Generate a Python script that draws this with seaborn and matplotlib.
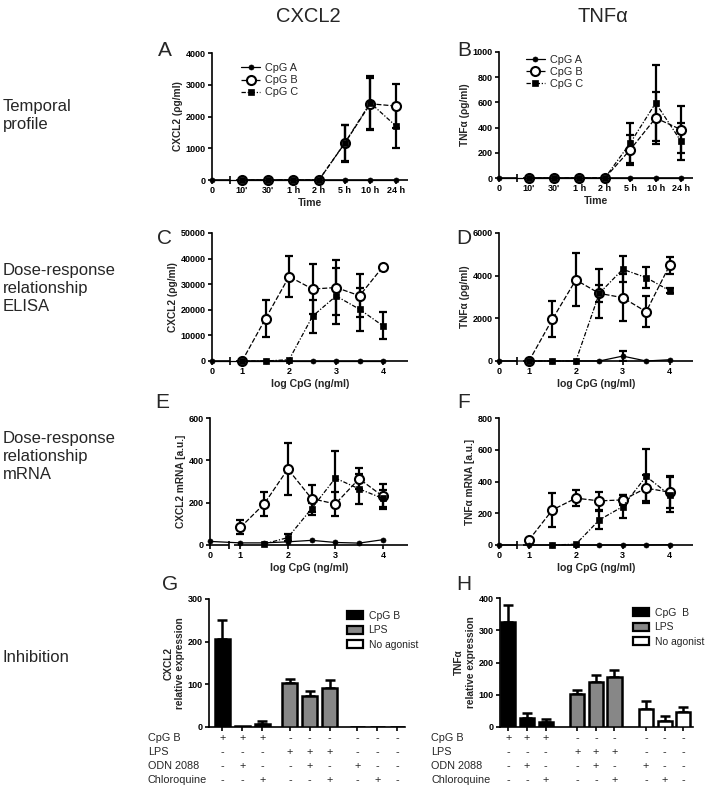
import numpy as np
import pandas as pd
import matplotlib
matplotlib.use("Agg")
import matplotlib.pyplot as plt
import matplotlib.transforms as mtrans
from matplotlib.lines import Line2D
from matplotlib.patches import Patch
import seaborn as sns

nan = np.nan

# ---------------- data ----------------
time_labels = ["0", "10'", "30'", "1 h", "2 h", "5 h", "10 h", "24 h"]

cxcl2_time_a = [0, 0, 0, 0, 0, 0, 0, 0]
cxcl2_time_b = [nan, 0, 0, 0, 0, 1150, 2400, 2330]
cxcl2_time_b_sd = [nan, 0, 0, 0, 0, 570, 800, 700]
cxcl2_time_c = [nan, 0, 0, 0, 0, 1160, 2430, 1700]
cxcl2_time_c_sd = [nan, 0, 0, 0, 0, 560, 850, 700]

tnf_time_a = [0, 0, 0, 0, 0, 0, 0, 0]
tnf_time_b = [nan, 0, 0, 0, 0, 225, 476, 384]
tnf_time_b_sd = [nan, 0, 0, 0, 0, 120, 210, 185]
tnf_time_c = [nan, 0, 0, 0, 0, 278, 595, 291]
tnf_time_c_sd = [nan, 0, 0, 0, 0, 160, 300, 145]

log_dose = [0, 1, 1.5, 2, 2.5, 3, 3.5, 4]
dose_tick_labels = ["0", "1", "2", "3", "4"]

cxcl2_elisa_a = [0, 0, 0, 0, 0, 0, 0, 0]
cxcl2_elisa_b = [nan, 0, 16600, 33000, 28100, 28700, 25500, 36900]
cxcl2_elisa_b_sd = [nan, 0, 7300, 7900, 9800, 10600, 8400, 0]
cxcl2_elisa_c = [nan, 0, 0, 500, 17500, 25400, 20200, 13700]
cxcl2_elisa_c_sd = [nan, 0, 0, 0, 6500, 10800, 8300, 5300]

tnf_elisa_a = [0, 0, 0, 0, 0, 230, 0, 60]
tnf_elisa_a_sd = [0, 0, 0, 0, 0, 220, 0, 0]
tnf_elisa_b = [nan, 0, 1960, 3800, 3170, 2970, 2310, 4480]
tnf_elisa_b_sd = [nan, 0, 840, 1240, 400, 1100, 720, 390]
tnf_elisa_c = [nan, 0, 0, 0, 3170, 4300, 3910, 3300]
tnf_elisa_c_sd = [nan, 0, 0, 0, 1150, 600, 490, 120]

cxcl2_mrna_a = [17, 10, 10, 15, 22, 12, 9, 25]
cxcl2_mrna_b = [nan, 83, 194, 359, 219, 194, 313, 230]
cxcl2_mrna_b_sd = [nan, 33, 57, 125, 63, 56, 50, 60]
cxcl2_mrna_c = [nan, nan, 5, 35, 172, 316, 265, 220]
cxcl2_mrna_c_sd = [nan, nan, 0, 15, 28, 126, 70, 40]

tnf_mrna_a = [0, 0, 0, 0, 0, 0, 0, 2]
tnf_mrna_b = [nan, 32, 221, 295, 278, 284, 358, 333]
tnf_mrna_b_sd = [nan, 0, 105, 50, 55, 30, 80, 100]
tnf_mrna_c = [nan, nan, 0, 5, 158, 242, 432, 316]
tnf_mrna_c_sd = [nan, nan, 0, 0, 57, 70, 170, 110]

agonist = ["CpG B"] * 3 + ["LPS"] * 3 + ["No agonist"] * 3
agonist_order = ["CpG B", "LPS", "No agonist"]
cxcl2_inhib = [206, 2, 7, 102, 72, 91, 0, 0, 0]
cxcl2_inhib_sd = [45, 0, 7, 10, 13, 19, 0, 0, 0]
tnf_inhib = [327, 27, 17, 103, 141, 154, 55, 19, 48]
tnf_inhib_sd = [50, 15, 7, 12, 19, 23, 26, 15, 13]

sign_row_names = ["CpG B", "LPS", "ODN 2088", "Chloroquine"]
signs_cpgb = ["+", "+", "+", "-", "-", "-", "-", "-", "-"]
signs_lps = ["-", "-", "-", "+", "+", "+", "-", "-", "-"]
signs_odn = ["-", "+", "-", "-", "+", "-", "+", "-", "-"]
signs_chloro = ["-", "-", "+", "-", "-", "+", "-", "+", "-"]

# ---------------- style ----------------
sns.set_theme(style="ticks")
plt.rcParams['font.family'] = ['Liberation Sans', 'DejaVu Sans']
plt.rcParams['axes.edgecolor'] = 'black'
plt.rcParams['xtick.color'] = 'black'
plt.rcParams['ytick.color'] = 'black'

W, H = 710, 791
fig = plt.figure(figsize=(W / 100, H / 100), dpi=100)


def add_ax(l, t, r, b):
    return fig.add_axes([l / W, 1 - b / H, (r - l) / W, (b - t) / H])


SPW = 1.2
TICKFS = 6.5
series_kw = {
    'B': dict(marker='o', markersize=6.5, markerfacecolor='white', markeredgecolor='black',
              markeredgewidth=1.5, linestyle=(0, (4, 1.6)), linewidth=0.9, zorder=3),
    'C': dict(marker='s', markersize=4.2, markerfacecolor='black', markeredgecolor='black',
              markeredgewidth=0.5, linestyle=(0, (3.5, 1.4, 1, 1.4)), linewidth=0.9, zorder=4),
    'A': dict(marker='o', markersize=3.6, markerfacecolor='black', markeredgecolor='black',
              markeredgewidth=0.5, linestyle='-', linewidth=0.9, zorder=5),
}


def style_axes(ax, yticks, ylabel):
    ax.set_ylim(yticks[0], yticks[-1])
    ax.set_yticks(yticks)
    ax.set_yticklabels([str(v) for v in yticks], fontsize=TICKFS, fontweight='bold')
    ax.set_ylabel(ylabel, fontsize=7.3, fontweight='bold', labelpad=2)
    for s in ['top', 'right']:
        ax.spines[s].set_visible(False)
    ax.spines['left'].set_linewidth(SPW)
    ax.spines['bottom'].set_linewidth(SPW)
    ax.tick_params(width=SPW, length=3, pad=1.5, color='black')


def broken_x(ax, x0, brk, resume, x1):
    tr = ax.get_xaxis_transform()
    ax.spines['bottom'].set_visible(False)
    kw = dict(transform=tr, color='black', lw=SPW, clip_on=False, zorder=1,
              solid_capstyle='butt')
    ax.plot([x0, brk], [0, 0], **kw)
    ax.plot([brk, brk], [-0.028, 0.028], **kw)
    ax.plot([resume, x1], [0, 0], **kw)


def line_panel(ax, xpos, series, xlim, brk, resume, xticks, xticklabels, yticks,
               ylabel, xlabel, legend_anchor=None):
    xpos = np.asarray(xpos, float)
    for y, sd, key, label in series:
        y = np.asarray(y, float)
        sd = np.asarray(sd, float)
        m = ~np.isnan(y)
        e = m & (np.nan_to_num(sd) > 0)
        if e.any():
            ax.errorbar(xpos[e], y[e], yerr=sd[e], fmt='none', ecolor='black',
                        elinewidth=1.6, capsize=3, capthick=1.6, zorder=2)
        sns.lineplot(x=xpos[m], y=y[m], ax=ax, color='black', clip_on=False,
                     label=label, **series_kw[key])
    style_axes(ax, yticks, ylabel)
    ax.set_xlim(*xlim)
    ax.set_xticks(xticks)
    ax.set_xticklabels(xticklabels, fontsize=TICKFS, fontweight='bold')
    ax.set_xlabel(xlabel, fontsize=7.6, fontweight='bold', labelpad=2)
    broken_x(ax, xlim[0], brk, resume, xlim[1])
    leg = ax.get_legend()
    if leg is not None:
        leg.remove()
    if legend_anchor is not None:
        handles = [Line2D([], [], color='black', **{k: v for k, v in series_kw[k2].items() if k != 'zorder'})
                   for k2 in ['A', 'B', 'C']]
        ax.legend(handles, ['CpG A', 'CpG B', 'CpG C'], loc='upper left',
                  bbox_to_anchor=legend_anchor, frameon=False, fontsize=7.8,
                  handlelength=1.7, handletextpad=0.5, labelspacing=0.2,
                  borderpad=0, borderaxespad=0)


# time positions: "0" sits before the axis break
time_pos = np.arange(len(time_labels), dtype=float)
time_pos[0] = -0.17
dose_arr = np.asarray(log_dose, float)
dose_pos = np.where(dose_arr == 0, 0.36, dose_arr)
dose_ticks = [0.36, 1, 2, 3, 4]

# ---- A ----
axA = add_ax(212, 53, 408, 180)
line_panel(axA, time_pos,
           [(cxcl2_time_b, cxcl2_time_b_sd, 'B', 'CpG B'),
            (cxcl2_time_c, cxcl2_time_c_sd, 'C', 'CpG C'),
            (cxcl2_time_a, [0] * 8, 'A', 'CpG A')],
           (-0.17, 7.47), 0.53, 0.78, time_pos, time_labels,
           [0, 1000, 2000, 3000, 4000], 'CXCL2 (\u03c1g/ml)', 'Time',
           legend_anchor=(0.15, 0.92))

# ---- B ----
axB = add_ax(499, 52, 693, 178)
line_panel(axB, time_pos,
           [(tnf_time_b, tnf_time_b_sd, 'B', 'CpG B'),
            (tnf_time_c, tnf_time_c_sd, 'C', 'CpG C'),
            (tnf_time_a, [0] * 8, 'A', 'CpG A')],
           (-0.14, 7.47), 0.53, 0.78, time_pos, time_labels,
           [0, 200, 400, 600, 800, 1000], 'TNF\u03b1 (\u03c1g/ml)', 'Time',
           legend_anchor=(0.14, 0.98))

# ---- C ----
axC = add_ax(212, 233, 408, 361)
line_panel(axC, dose_pos,
           [(cxcl2_elisa_b, cxcl2_elisa_b_sd, 'B', None),
            (cxcl2_elisa_c, cxcl2_elisa_c_sd, 'C', None),
            (cxcl2_elisa_a, [0] * 8, 'A', None)],
           (0.36, 4.53), 0.75, 0.87, dose_ticks, dose_tick_labels,
           [0, 10000, 20000, 30000, 40000, 50000], 'CXCL2 (\u03c1g/ml)', 'log CpG (ng/ml)')

# ---- D ----
axD = add_ax(499, 233, 693, 361)
line_panel(axD, dose_pos,
           [(tnf_elisa_b, tnf_elisa_b_sd, 'B', None),
            (tnf_elisa_c, tnf_elisa_c_sd, 'C', None),
            (tnf_elisa_a, tnf_elisa_a_sd, 'A', None)],
           (0.36, 4.5), 0.75, 0.87, dose_ticks, dose_tick_labels,
           [0, 2000, 4000, 6000], 'TNF\u03b1 (\u03c1g/ml)', 'log CpG (ng/ml)')

# ---- E ----
axE = add_ax(210, 418, 408, 545)
line_panel(axE, dose_pos,
           [(cxcl2_mrna_b, cxcl2_mrna_b_sd, 'B', None),
            (cxcl2_mrna_c, cxcl2_mrna_c_sd, 'C', None),
            (cxcl2_mrna_a, [0] * 8, 'A', None)],
           (0.36, 4.53), 0.75, 0.87, dose_ticks, dose_tick_labels,
           [0, 200, 400, 600], 'CXCL2 mRNA [a.u.]', 'log CpG (ng/ml)')

# ---- F ----
axF = add_ax(499, 418, 693, 545)
line_panel(axF, dose_pos,
           [(tnf_mrna_b, tnf_mrna_b_sd, 'B', None),
            (tnf_mrna_c, tnf_mrna_c_sd, 'C', None),
            (tnf_mrna_a, [0] * 8, 'A', None)],
           (0.36, 4.5), 0.75, 0.87, dose_ticks, dose_tick_labels,
           [0, 200, 400, 600, 800], 'TNF\u03b1 mRNA [a.u.]', 'log CpG (ng/ml)')

# ---------------- bar panels ----------------
agonist_colors = {"CpG B": "black", "LPS": "#878787", "No agonist": "white"}
sign_rows = [signs_cpgb, signs_lps, signs_odn, signs_chloro]
sign_row_y = [738, 752, 766, 780]


def bar_panel(ax, pos, vals, sd, yticks, ylabel, xlim, legend_labels, legend_anchor,
              row_label_x):
    pos = np.asarray(pos, float)
    vals = np.asarray(vals, float)
    sd = np.asarray(sd, float)
    df = pd.DataFrame({'pos': pos, 'val': vals, 'agonist': agonist})
    sns.barplot(data=df, x='pos', y='val', hue='agonist', hue_order=agonist_order,
                palette=agonist_colors, native_scale=True, dodge=False, width=0.76,
                edgecolor='black', linewidth=1.8, saturation=1, errorbar=None,
                legend=False, ax=ax, zorder=3)
    e = sd > 0
    ax.errorbar(pos[e], vals[e], yerr=[np.zeros(e.sum()), sd[e]], fmt='none',
                ecolor='black', elinewidth=1.8, capsize=3.5, capthick=1.8, zorder=2)
    style_axes(ax, yticks, ylabel)
    ax.set_xlim(*xlim)
    ax.set_xticks(pos)
    ax.set_xticklabels([])
    ax.set_xlabel('')
    handles = [Patch(facecolor=agonist_colors[a], edgecolor='black', linewidth=1.6)
               for a in agonist_order]
    ax.legend(handles, legend_labels, loc='upper left', bbox_to_anchor=legend_anchor,
              frameon=False, fontsize=7.5, handlelength=1.5, handleheight=0.8,
              handletextpad=0.55, labelspacing=0.45, borderpad=0, borderaxespad=0)
    tr = mtrans.blended_transform_factory(ax.transData, fig.transFigure)
    for name, signs, yp in zip(sign_row_names, sign_rows, sign_row_y):
        fig.text(row_label_x / W, 1 - yp / H, name, fontsize=7.8, ha='left', va='center')
        for x, s in zip(pos, signs):
            ax.text(x, 1 - yp / H, s, transform=tr, fontsize=7.8, ha='center',
                    va='center')


axG = add_ax(209, 599, 405, 727)
bar_panel(axG, [0, 1, 2, 3.4, 4.4, 5.4, 6.8, 7.8, 8.8], cxcl2_inhib, cxcl2_inhib_sd,
          [0, 100, 200, 300], 'CXCL2\nrelative expression', (-0.68, 9.2),
          ['CpG B', 'LPS', 'No agonist'], (0.705, 0.91), 148)

axH = add_ax(500, 598, 693, 727)
bar_panel(axH, [0, 1, 2, 3.7, 4.7, 5.7, 7.4, 8.4, 9.4], tnf_inhib, tnf_inhib_sd,
          [0, 100, 200, 300, 400], 'TNF\u03b1\nrelative expression', (-0.45, 9.92),
          ['CpG  B', 'LPS', 'No agonist'], (0.69, 0.925), 431)

# ---------------- figure texts ----------------
fig.text(308 / W, 1 - 17 / H, 'CXCL2', fontsize=14.5, ha='center', va='center')
fig.text(603 / W, 1 - 17 / H, 'TNF\u03b1', fontsize=14.5, ha='center', va='center')

for letter, x, y in [('A', 165, 50), ('B', 464, 50), ('C', 165, 238), ('D', 464, 238),
                     ('E', 162, 402), ('F', 464, 402), ('G', 170, 585), ('H', 464, 585)]:
    fig.text(x / W, 1 - y / H, letter, fontsize=15, ha='center', va='center')

row_texts = [("Temporal\nprofile", 116), ("Dose-response\nrelationship\nELISA", 288),
             ("Dose-response\nrelationship\nmRNA", 456), ("Inhibition", 657)]
for txt, y in row_texts:
    fig.text(3 / W, 1 - y / H, txt, fontsize=12, ha='left', va='center', linespacing=1.25)

fig.savefig('out.png', dpi=100, facecolor='white')
